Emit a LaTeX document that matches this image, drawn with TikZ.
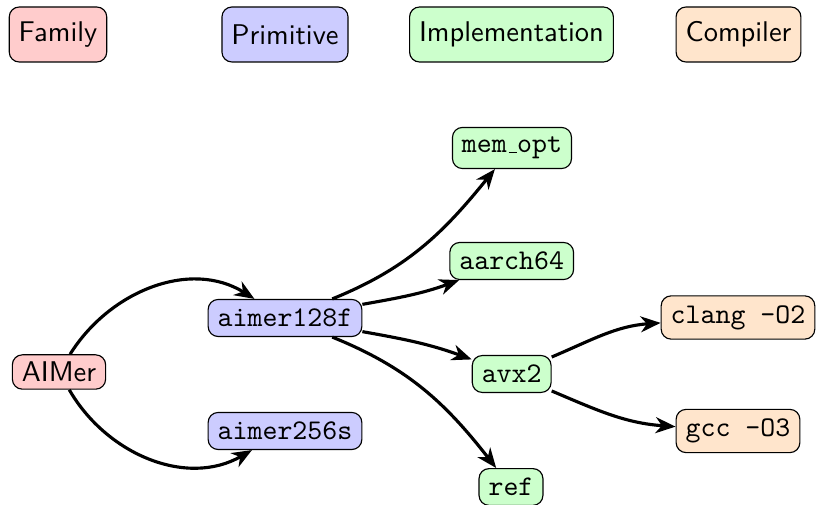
\documentclass[tikz,border=0pt]{standalone}
\usetikzlibrary{arrows.meta}
\newcommand{\lowbar}{\leavevmode\kern.06em\vbox{\hrule width.3em}}
\begin{document}
\begin{tikzpicture}[x=0.35088pt,y=0.35088pt,
  box/.style={draw=black, rounded corners=3.5pt},
  fam/.style={box, fill=red!20, font=\sffamily},
  prim/.style={box, fill=blue!20, font=\ttfamily},
  impl/.style={box, fill=green!20, font=\ttfamily},
  comp/.style={box, fill=orange!20, font=\ttfamily},
  legend/.style={minimum height=19.3pt, font=\sffamily},
  edge/.style={line width=1.1pt, -{Stealth[length=7pt,width=5.6pt,inset=2.2pt]}}]
\useasboundingbox (0,0) rectangle (816,505);
% legend
\node[fam,legend]  (lfam)  at (58,470.5)    {Family};
\node[prim,legend] (lprim) at (285,470.5)   {Primitive};
\node[impl,legend] (limpl) at (511.5,470.5) {Implementation};
\node[comp,legend] (lcomp) at (738.5,470.5) {Compiler};
% graph
\node[fam, inner ysep=2.5pt] (aimer) at (59,133) {AIMer};
\node[prim] (a128)  at (285,187)   {aimer128f};
\node[prim] (a256)  at (285,74)    {aimer256s};
\node[impl] (mem)   at (512,357)   {mem\lowbar opt};
\node[impl] (aarch) at (511.7,244) {aarch64};
\node[impl] (avx)   at (511.7,131) {avx2};
\node[impl] (ref)   at (511,18)    {ref};
\node[comp] (clang) at (738,187.5) {clang -O2};
\node[comp] (gcc)   at (738,74)    {gcc -O3};
% edges
\draw[edge] (aimer) to[out=58,in=148]  (a128);
\draw[edge] (aimer) to[out=-60,in=210] (a256);
\draw[edge] (a128)  to[out=22,in=231]  (mem);
\draw[edge] (a128)  to[out=10,in=200]  (aarch);
\draw[edge] (a128)  to[out=-10,in=160] (avx);
\draw[edge] (a128)  to[out=-22,in=128] (ref);
\draw[edge] (avx)   to[out=23,in=184]  (clang);
\draw[edge] (avx)   to[out=-23,in=176] (gcc);
\end{tikzpicture}
\end{document}
